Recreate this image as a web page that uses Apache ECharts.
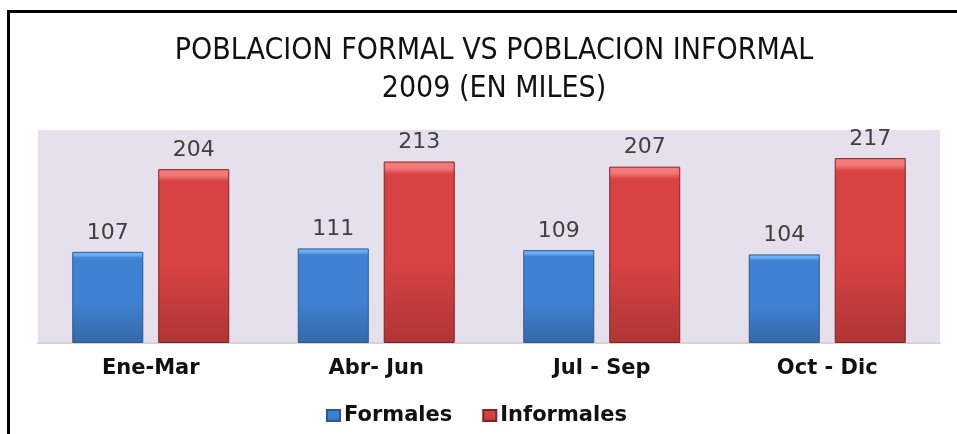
<!DOCTYPE html>
<html>
<head>
<meta charset="utf-8">
<style>
  html, body { margin: 0; padding: 0; background: #ffffff; }
  #chart { width: 957px; height: 434px; }
</style>
<script src="https://cdn.jsdelivr.net/npm/echarts@6/dist/echarts.min.js"></script>
</head>
<body>
<div id="chart"></div>
<script>
// Población formal e informal por trimestre, 2009 (en miles)
const titleLines = ['POBLACION FORMAL VS POBLACION INFORMAL', '2009 (EN MILES)'];
const quarters = ['Ene-Mar', 'Abr- Jun', 'Jul - Sep', 'Oct - Dic'];
const seriesNames = ['Formales', 'Informales'];
const formales = [107, 111, 109, 104];
const informales = [204, 213, 207, 217];

const chart = echarts.init(document.getElementById('chart'), null, { renderer: 'canvas' });

// Vertical gradient with a light bevel strip along the top edge of each bar
function bevel(light, main, dark) {
  return {
    type: 'linear', x: 0, y: 0, x2: 0, y2: 1,
    colorStops: [
      { offset: 0, color: light },
      { offset: 0.035, color: light },
      { offset: 0.07, color: main },
      { offset: 0.55, color: main },
      { offset: 1, color: dark }
    ]
  };
}

const labelStyle = {
  show: true,
  position: 'top',
  distance: 8,
  fontFamily: 'DejaVu Sans',
  fontSize: 22,
  color: '#404040'
};

chart.setOption({
  animation: false,
  backgroundColor: '#ffffff',
  title: {
    text: titleLines.join('\n'),
    left: 489,
    top: 27,
    textAlign: 'center',
    textStyle: {
      fontFamily: "'Liberation Sans Narrow', 'DejaVu Sans Condensed', sans-serif",
      fontWeight: 'normal',
      fontSize: 30,
      lineHeight: 38,
      color: '#111111'
    }
  },
  legend: {
    data: seriesNames,
    left: 321,
    top: 400,
    itemWidth: 13,
    itemHeight: 11,
    itemGap: 30,
    icon: 'rect',
    textStyle: {
      fontFamily: 'DejaVu Sans',
      fontWeight: 'bold',
      fontSize: 21,
      color: '#111111',
      padding: [0, 0, 0, -1]
    }
  },
  grid: {
    left: 38,
    right: 17,
    top: 130,
    bottom: 91,
    show: true,
    backgroundColor: '#e5e0ec',
    borderWidth: 0
  },
  xAxis: {
    type: 'category',
    data: quarters,
    axisTick: { show: false },
    axisLine: { show: true, lineStyle: { color: '#d4d4d4', width: 2 } },
    axisLabel: {
      margin: 15,
      fontFamily: 'DejaVu Sans',
      fontWeight: 'bold',
      fontSize: 21,
      color: '#111111'
    }
  },
  yAxis: {
    type: 'value',
    min: 0,
    max: 250,
    show: false,
    splitLine: { show: false }
  },
  graphic: [
    {
      type: 'rect',
      silent: true,
      shape: { x: 8.5, y: 11.5, width: 1000, height: 500 },
      style: { fill: 'none', stroke: '#000000', lineWidth: 3 }
    }
  ],
  series: [
    {
      name: seriesNames[0],
      type: 'bar',
      data: formales,
      barWidth: '31.5%',
      barGap: '21%',
      itemStyle: {
        color: bevel('#6eaef5', '#3f82d4', '#3468a8'),
        borderColor: '#2b5a92',
        borderWidth: 1
      },
      label: labelStyle
    },
    {
      name: seriesNames[1],
      type: 'bar',
      data: informales,
      barWidth: '31.5%',
      itemStyle: {
        color: bevel('#f47a7a', '#d84242', '#b03535'),
        borderColor: '#7e2424',
        borderWidth: 1
      },
      label: labelStyle
    }
  ]
});
</script>
</body>
</html>
